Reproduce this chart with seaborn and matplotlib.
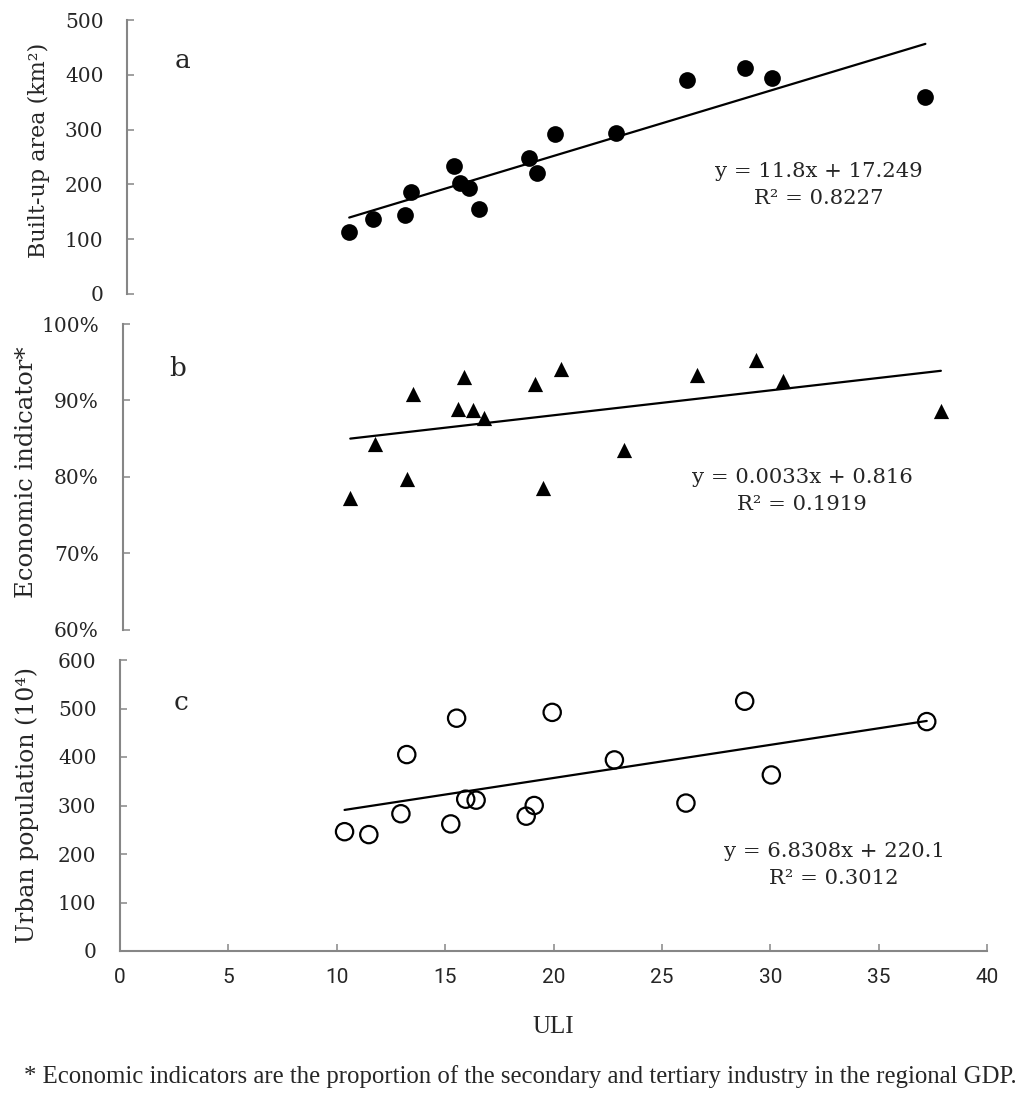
import numpy as np
import pandas as pd
import matplotlib
matplotlib.use("Agg")
import matplotlib.pyplot as plt
from matplotlib.ticker import PercentFormatter, MultipleLocator
import seaborn as sns

# ---------------- data ----------------
uli = [10.36, 11.48, 12.96, 13.23, 15.26, 15.53, 15.95, 16.43,
       18.74, 19.11, 19.94, 22.81, 26.11, 28.82, 30.05, 37.22]
built_up = [114, 137, 145, 186, 234, 202, 193, 156,
            249, 221, 292, 294, 391, 413, 395, 359]
econ = [0.772, 0.843, 0.797, 0.909, 0.889, 0.931, 0.888, 0.877,
        0.921, 0.786, 0.941, 0.835, 0.933, 0.953, 0.925, 0.886]
urban_pop = [246, 240, 283, 405, 262, 480, 313, 311,
             278, 300, 492, 394, 305, 515, 363, 473]

slopes = [11.8, 0.0033, 6.8308]
intercepts = [17.249, 0.816, 220.1]
eq_texts = ["y = 11.8x + 17.249\nR\u00b2 = 0.8227",
            "y = 0.0033x + 0.816\nR\u00b2 = 0.1919",
            "y = 6.8308x + 220.1\nR\u00b2 = 0.3012"]
panel_letters = ["a", "b", "c"]
ylabels = ["Built-up area (km\u00b2)", "Economic indicator*", "Urban population (10\u2074)"]
xlabel = "ULI"
footnote = ("* Economic indicators are the proportion of the secondary and "
            "tertiary industry in the regional GDP.")

# ---------------- style ----------------
sns.set_theme(style="white")
plt.rcParams['font.family'] = ['DejaVu Serif', 'DejaVu Sans']

W, H = 1024, 1099
fig = plt.figure(figsize=(W / 100, H / 100), dpi=100)

def px_axes(left, right, top, bottom):
    return fig.add_axes([left / W, 1 - bottom / H, (right - left) / W, (bottom - top) / H])

ax_a = px_axes(127, 985, 20, 294)
ax_b = px_axes(122.5, 1002, 324, 630)
ax_c = px_axes(120, 987, 660, 951)
axes = [ax_a, ax_b, ax_c]

gray = "#868686"

df = pd.DataFrame({"ULI": uli, "built": built_up, "econ": econ, "pop": urban_pop})

# Panel a
sns.scatterplot(data=df, x="ULI", y="built", ax=ax_a, color="black", marker="o",
                s=145, edgecolor="black", linewidth=0, zorder=3)
# Panel b
sns.scatterplot(data=df, x="ULI", y="econ", ax=ax_b, color="black", marker="^",
                s=120, edgecolor="black", linewidth=0, zorder=3)
# Panel c
sns.scatterplot(data=df, x="ULI", y="pop", ax=ax_c, color="black", marker="o",
                s=155, facecolor="none", edgecolor="black", linewidth=1.6, zorder=3)

# trend lines
xr = np.array([min(uli), max(uli)])
for ax, m, b in zip(axes, slopes, intercepts):
    sns.lineplot(x=xr, y=m * xr + b, ax=ax, color="black", linewidth=1.6, zorder=2)

ylims = [(0, 500), (0.6, 1.0), (0, 600)]
ysteps = [100, 0.1, 100]
for ax, yl, st in zip(axes, ylims, ysteps):
    ax.set_xlim(0, 40)
    ax.set_ylim(*yl)
    ax.yaxis.set_major_locator(MultipleLocator(st))
    for s in ["top", "right"]:
        ax.spines[s].set_visible(False)
    ax.spines["left"].set_color(gray)
    ax.spines["left"].set_linewidth(1.5)
    ax.tick_params(axis="y", direction="in", length=5, width=1.1, color=gray,
                   pad=17, left=True)
    for lab in ax.get_yticklabels():
        lab.set_fontfamily('DejaVu Serif')
        lab.set_fontsize(14.5)
    ax.set_xlabel("")
    ax.set_facecolor("none")

ax_b.yaxis.set_major_formatter(PercentFormatter(1.0, decimals=0))
for ax in (ax_a, ax_b):
    ax.spines["bottom"].set_visible(False)
    ax.set_xticks([])

ax_c.spines["bottom"].set_color(gray)
ax_c.spines["bottom"].set_linewidth(1.5)
ax_c.xaxis.set_major_locator(MultipleLocator(5))
ax_c.tick_params(axis="x", direction="in", length=5, width=1.1, color=gray,
                 pad=12, bottom=True)
for lab in ax_c.get_xticklabels():
    lab.set_fontfamily('Roboto')
    lab.set_fontsize(15)

# y labels (pixel positions; x = right edge of label)
ylabel_pos = [(50, 150), (38, 472), (39, 805)]
ylabel_sizes = [16, 17.5, 17]
for ax, lab, (lx, ly), fs in zip(axes, ylabels, ylabel_pos, ylabel_sizes):
    ax.set_ylabel(lab, fontsize=fs, family=['DejaVu Serif', 'DejaVu Sans'])
    ax.yaxis.set_label_coords(lx / W, 1 - ly / H, transform=fig.transFigure)

# panel letters
letter_pos = [(183, 60), (178, 368), (181, 703)]
for (x, y), t in zip(letter_pos, panel_letters):
    fig.text(x / W, 1 - y / H, t, ha="center", va="center", fontsize=19,
             family=['DejaVu Serif'])

# equations
eq_pos = [(819, 185), (802, 491), (834, 865)]
for (x, y), t in zip(eq_pos, eq_texts):
    fig.text(x / W, 1 - y / H, t, ha="center", va="center", fontsize=15.2,
             family=['DejaVu Serif'], multialignment="center", linespacing=1.55)

fig.text(553 / W, 1 - 1027 / H, xlabel, ha="center", va="center", fontsize=18,
         family=['Liberation Serif'])
fig.text(520 / W, 1 - 1077 / H, footnote, ha="center", va="center", fontsize=17.8,
         family=['Liberation Serif'])

fig.savefig("out.png", dpi=100, facecolor="white")
